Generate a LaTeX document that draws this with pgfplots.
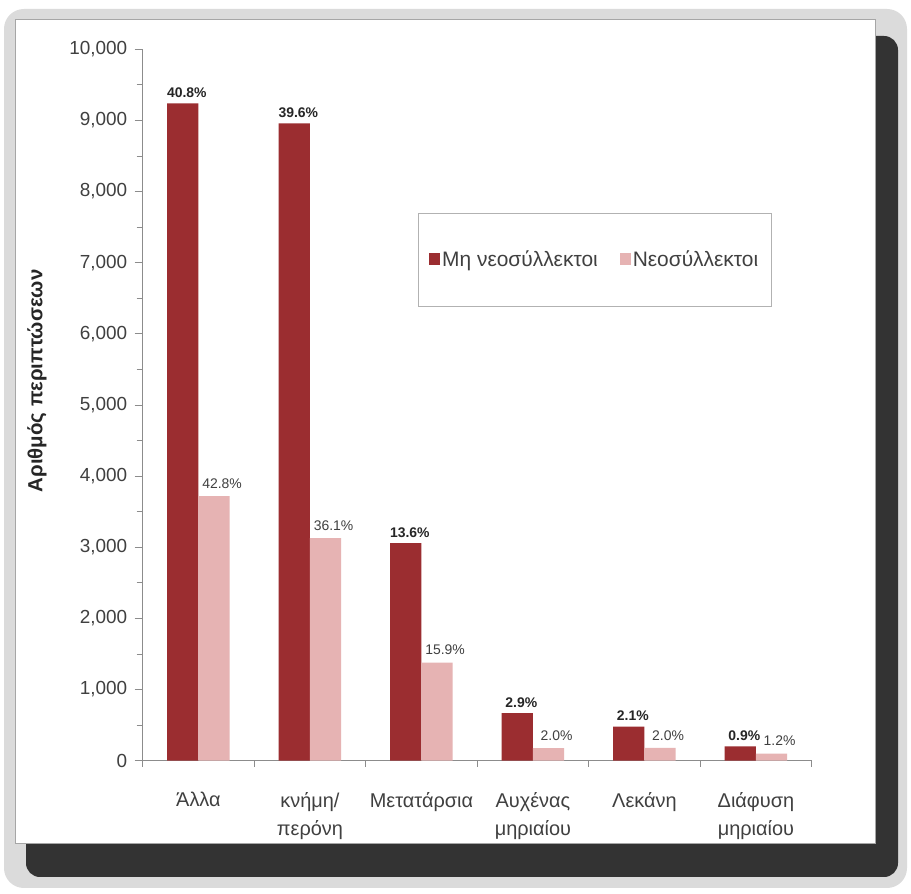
\documentclass[border=0pt]{standalone}
\usepackage{pgfplots}
\pgfplotsset{compat=1.18}
\usepackage{fontspec}
\setmainfont{Liberation Sans}
\definecolor{darkred}{HTML}{9B2D30}
\definecolor{pinkc}{HTML}{E6B3B3}
\definecolor{ticktext}{HTML}{404040}
\definecolor{axisgray}{HTML}{8C8C8C}
\begin{document}
\begin{tikzpicture}[x=1bp,y=1bp]
\path (0,0) rectangle (911,894);
\fill[black!14, rounded corners=20] (4,6) rectangle (907,885);
\fill[black!80, rounded corners=14] (26,17) rectangle (898,858);
\filldraw[fill=white, draw=black!35] (15,51) rectangle (875,875);
\begin{axis}[
  at={(142.7bp,133.3bp)}, anchor=south west,
  scale only axis, width=669bp, height=711.4bp,
  xmin=-0.5, xmax=5.5, ymin=0, ymax=10000,
  axis x line*=bottom, axis y line*=left,
  axis line style={draw=axisgray, line width=0.8bp},
  ytick={0,1000,...,10000}, minor y tick num=1,
  xtick={0,...,5},
  xticklabels={Άλλα, {κνήμη/\\περόνη}, Μετατάρσια, {Αυχένας\\μηριαίου}, Λεκάνη, {Διάφυση\\μηριαίου}},
  minor xtick={-0.5,0.5,...,5.5},
  tick align=outside,
  major tick length=8bp, minor tick length=6bp,
  every tick/.style={draw=axisgray, line width=0.8bp},
  major x tick style={draw=none},
  scaled y ticks=false,
  /pgf/number format/1000 sep={,},
  /pgf/number format/assume math mode=true,
  yticklabel style={font=\fontsize{19}{22}\selectfont, text=ticktext, xshift=-4bp},
  xticklabel style={font=\fontsize{20}{28}\selectfont, text=ticktext, align=center, yshift=-20bp},
  ylabel={Αριθμός περιπτώσεων},
  every axis y label/.style={at={(axis description cs:-0.158,0.5337)}, rotate=90, anchor=center, font=\fontsize{20.5}{24}\selectfont\bfseries, text=black!85},
  ybar=0pt, bar width=0.28,
  legend columns=2,
  legend style={at={(0.4115,0.770)}, anchor=north west, draw=black!30, fill=white,
    font=\fontsize{21}{24}\selectfont, text=ticktext, inner xsep=11bp, inner ysep=36bp,
    /tikz/every even column/.append style={column sep=20bp}},
  legend image code/.code={\fill[#1] (0bp,-5bp) rectangle (11bp,7bp);},
]
\addplot[fill=darkred, draw=none, bar shift=-0.14,
  nodes near coords, point meta=explicit symbolic,
  every node near coord/.append style={font=\fontsize{14}{16}\selectfont\bfseries, text=black!85, xshift=4bp, yshift=2bp}]
  coordinates {(0,9240)[40.8\%] (1,8960)[39.6\%] (2,3060)[13.6\%] (3,670)[2.9\%] (4,480)[2.1\%] (5,200)[0.9\%]};
\addplot[fill=pinkc, draw=none, bar shift=0.14,
  nodes near coords, point meta=explicit symbolic,
  every node near coord/.append style={font=\fontsize{14}{16}\selectfont, text=black!75, xshift=8bp, yshift=4bp}]
  coordinates {(0,3720)[42.8\%] (1,3130)[36.1\%] (2,1380)[15.9\%] (3,175)[2.0\%] (4,180)[2.0\%] (5,100)[1.2\%]};
\legend{Μη νεοσύλλεκτοι, Νεοσύλλεκτοι}
\end{axis}
\end{tikzpicture}
\end{document}
